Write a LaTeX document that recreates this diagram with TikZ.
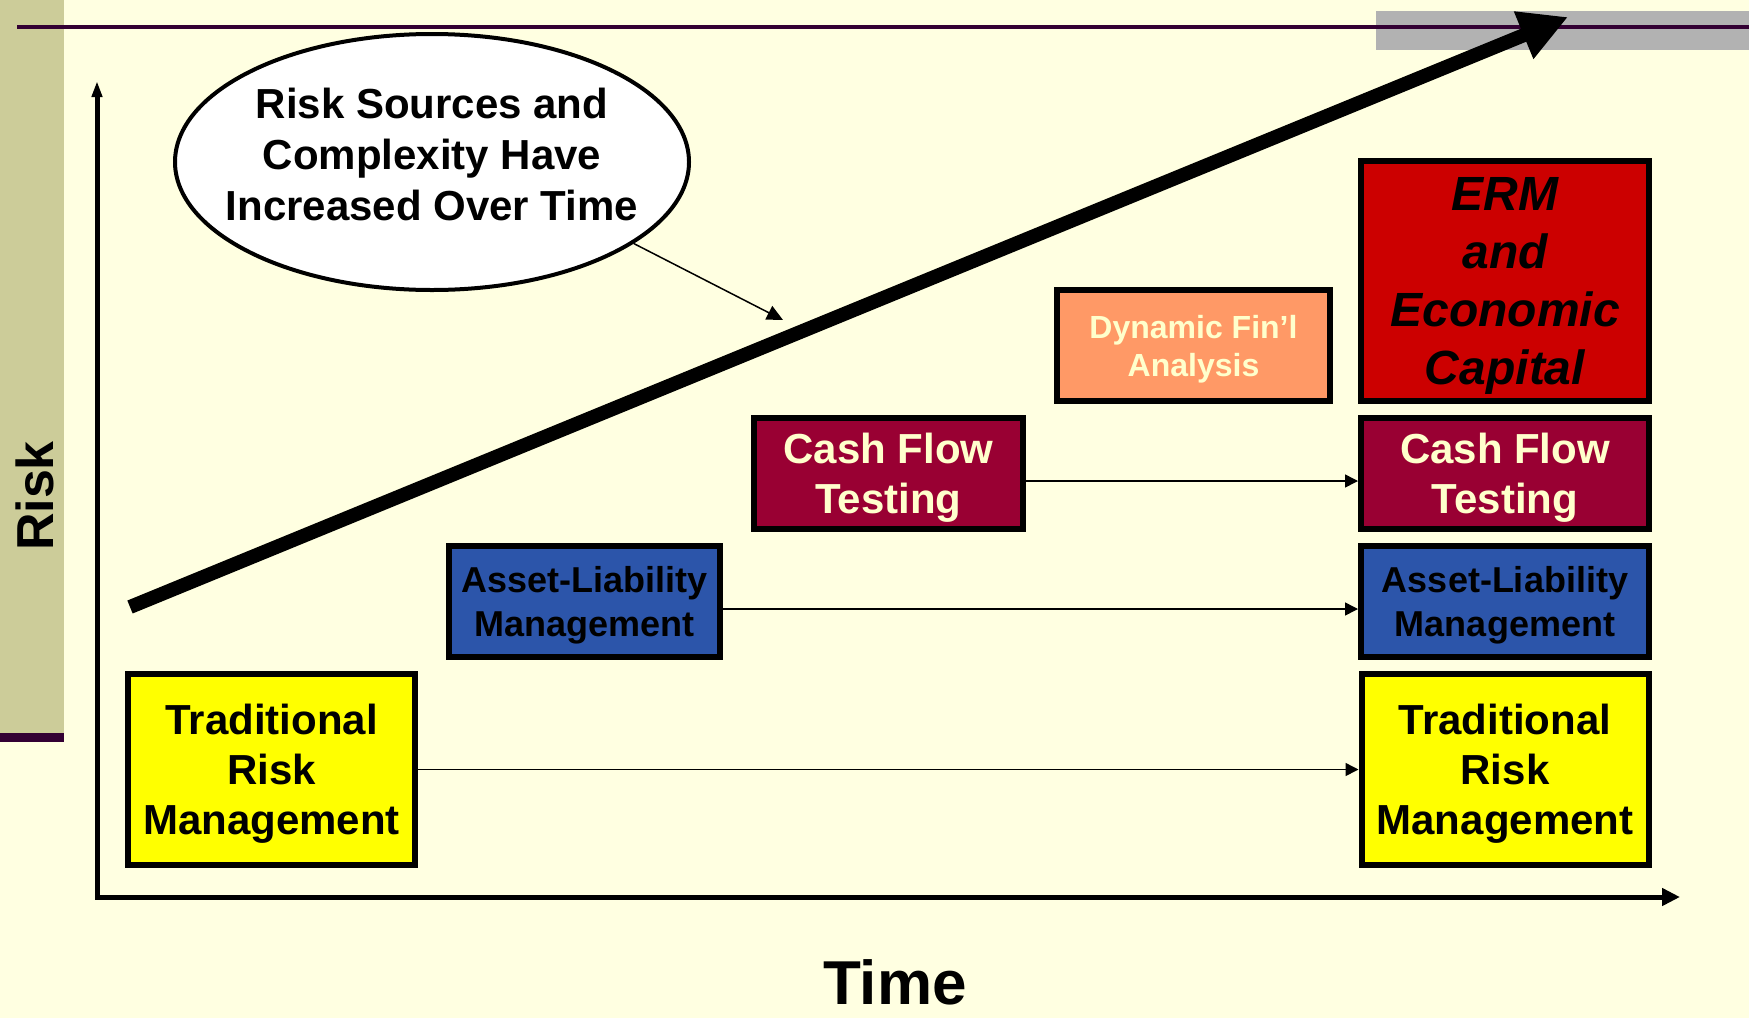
\documentclass[tikz,border=0pt]{standalone}
\usepackage{fontspec}
\setmainfont{Liberation Sans}
\usetikzlibrary{arrows.meta,positioning,shapes.geometric}

\definecolor{bgyellow}{HTML}{FFFFE1}
\definecolor{sidebar}{HTML}{CCCC99}
\definecolor{darkplum}{HTML}{330033}
\definecolor{bandgray}{HTML}{B2B2B2}
\definecolor{tradyellow}{HTML}{FFFF00}
\definecolor{almblue}{HTML}{2C55AA}
\definecolor{cftmaroon}{HTML}{990033}
\definecolor{dynorange}{HTML}{FF9966}
\definecolor{ermred}{HTML}{CC0000}
\definecolor{paletext}{HTML}{FFFFCC}

\begin{document}
\begin{tikzpicture}[x=1pt, y=-1pt,
    box/.style={rectangle, draw=black, line width=6pt, inner sep=0pt, outer sep=0pt, align=center, text depth=0pt},
    trad/.style={box, fill=tradyellow, minimum width=287pt, minimum height=191pt, font=\bfseries\fontsize{42}{50}\selectfont},
    alm/.style={box, fill=almblue, minimum height=111pt, font=\bfseries\fontsize{36}{44}\selectfont},
    cft/.style={box, fill=cftmaroon, text=paletext, minimum height=111pt, font=\bfseries\fontsize{42}{50}\selectfont},
    conn/.style={line width=1.5pt, shorten >=3pt, -{Triangle[length=13pt,width=13pt]}},
    axis/.style={line width=5pt, line join=miter, {Triangle[length=16pt,width=10pt]}-{Triangle[length=18pt,width=17pt]}}]

    % frame and background
    \fill[bgyellow] (0,0) rectangle (1749,1018);
    \useasboundingbox (0,0) rectangle (1749,1018);
    \fill[bandgray] (1376,11) rectangle (1749,50);
    \fill[sidebar] (0,0) rectangle (64,733);
    \fill[darkplum] (0,733) rectangle (64,742);
    \draw[darkplum, line width=4pt] (17,27) -- (1749,27);

    \node (risk) [anchor=base, rotate=90, font=\bfseries\fontsize{52}{60}\selectfont] at (53,496) {Risk};
    \node (time) [anchor=base, inner sep=0pt, font=\bfseries\fontsize{62}{70}\selectfont] at (895,1004) {Time};

    \coordinate (origin) at (97,897);
    \coordinate (ytip) at (97,81);
    \coordinate (xtip) at (1680,897);
    \draw[axis] (ytip) -- (origin) -- (xtip);

    % left: the steps over time
    \node (tradL) [trad] at (271.5,769.5) {Traditional\\Risk\\Management};
    \node (almL) [alm, minimum width=271pt, above right=17pt and 34pt of tradL] {Asset-Liability\\Management};
    \node (cftL) [cft, minimum width=269pt, above right=17pt and 34pt of almL] {Cash Flow\\Testing};
    \node (dyn) [box, fill=dynorange, text=paletext, minimum width=273pt, minimum height=111pt,
        font=\bfseries\fontsize{32}{38}\selectfont, above right=17pt and 34pt of cftL] {Dynamic Fin’l\\Analysis};

    % right: what is in use today
    \node (tradR) [trad] at (1505,769.5) {Traditional\\Risk\\Management};
    \node (almR) [alm, minimum width=288pt, above=17pt of tradR] {Asset-Liability\\Management};
    \node (cftR) [cft, minimum width=288pt, above=17pt of almR] {Cash Flow\\Testing};
    \node (erm) [box, fill=ermred, minimum width=288pt, minimum height=240pt,
        font=\bfseries\itshape\fontsize{48}{58}\selectfont, above=17pt of cftR] {ERM\\and\\Economic\\Capital};

    \draw[conn] (tradL) -- (tradR);
    \draw[conn] ([yshift=-7.5pt]almL.east) -- ([yshift=-7.5pt]almR.west);
    \draw[conn] ([yshift=-7.5pt]cftL.east) -- ([yshift=-7.5pt]cftR.west);

    \node (sources) [ellipse, draw=black, line width=4pt, fill=white, inner sep=0pt,
        minimum width=514pt, minimum height=256pt] at (432,162) {};
    \node (sourcesText) [align=center, font=\bfseries\fontsize{42}{51}\selectfont, yshift=8pt] at (sources.center)
        {Risk Sources and\\Complexity Have\\Increased Over Time};
    \coordinate (sourcesTip) at (783,320);
    \draw[line width=1.5pt, -{Triangle[length=16pt,width=15pt]}] (sources.-22) -- (sourcesTip);

    \coordinate (growStart) at (130,607);
    \coordinate (growEnd) at (1568,17);
    \draw[line width=14pt, -{Triangle[length=48pt,width=48pt]}] (growStart) -- (growEnd);
\end{tikzpicture}
\end{document}
